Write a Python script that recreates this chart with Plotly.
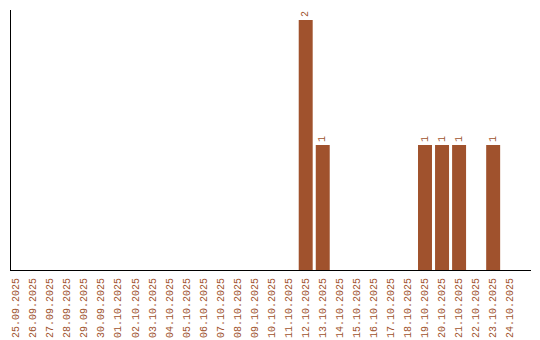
import plotly.graph_objects as go

dates = ["25.09.2025", "26.09.2025", "27.09.2025", "28.09.2025", "29.09.2025",
         "30.09.2025", "01.10.2025", "02.10.2025", "03.10.2025", "04.10.2025",
         "05.10.2025", "06.10.2025", "07.10.2025", "08.10.2025", "09.10.2025",
         "10.10.2025", "11.10.2025", "12.10.2025", "13.10.2025", "14.10.2025",
         "15.10.2025", "16.10.2025", "17.10.2025", "18.10.2025", "19.10.2025",
         "20.10.2025", "21.10.2025", "22.10.2025", "23.10.2025", "24.10.2025"]
counts = [0, 0, 0, 0, 0, 0, 0, 0, 0, 0, 0, 0, 0, 0, 0, 0, 0,
          2, 1, 0, 0, 0, 0, 0, 1, 1, 1, 0, 1, 0]

color = "#A0522D"
font_family = "Liberation Mono"

labels = [str(v) if v > 0 else "" for v in counts]

fig = go.Figure(go.Bar(
    x=list(range(len(dates))),
    y=counts,
    text=labels,
    textposition="outside",
    textangle=-90,
    textfont=dict(family=font_family, size=10, color=color),
    marker=dict(color=color, line=dict(width=0)),
    cliponaxis=False,
))

fig.update_layout(
    width=540, height=340,
    margin=dict(l=11, r=9, t=10, b=70, autoexpand=False),
    plot_bgcolor="white", paper_bgcolor="white",
    bargap=0.18,
    showlegend=False,
    font=dict(family=font_family, size=10, color=color),
)
fig.update_xaxes(
    tickmode="array",
    tickvals=list(range(len(dates))),
    ticktext=dates,
    tickangle=-90,
    tickfont=dict(family=font_family, size=10, color=color),
    range=[-0.293, 30.22],
    showgrid=False, zeroline=False,
    showline=True, linecolor="black", linewidth=1,
    ticks="",
    automargin=False,
    ticklabelstandoff=3,
)
fig.update_yaxes(
    range=[0, 2.08],
    showgrid=False, zeroline=False,
    showline=True, linecolor="black", linewidth=1,
    showticklabels=False, ticks="",
    automargin=False,
)

fig.write_html("out.html")
